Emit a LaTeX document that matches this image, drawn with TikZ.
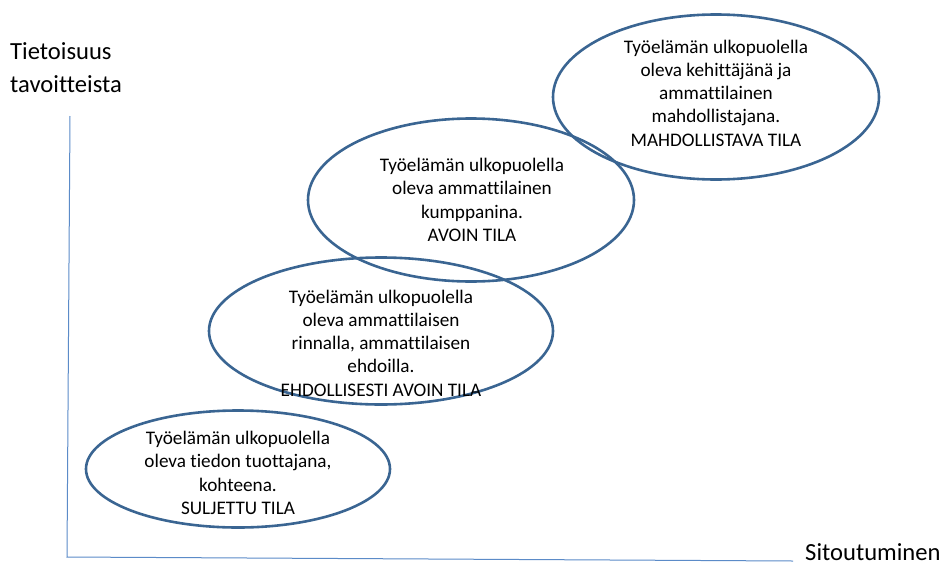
\documentclass[tikz,border=0pt]{standalone}
\usepackage{fontspec}
\setmainfont{Carlito}[Ligatures=NoCommon]
\usetikzlibrary{shapes.geometric}
\definecolor{ellblue}{HTML}{3A6592}
\definecolor{axisblue}{HTML}{5B8BC8}
\begin{document}
\begin{tikzpicture}[x=1pt,y=-1pt,
  ell/.style={draw=ellblue,line width=2.6pt,ellipse,inner sep=0pt},
  etext/.style={align=center,font=\fontsize{19.2}{23.3}\selectfont,inner sep=0pt},
  axlabel/.style={align=left,font=\fontsize{24.6}{33}\selectfont,inner sep=0pt},
  xaxlabel/.style={font=\fontsize{24.6}{28}\selectfont,inner sep=0pt},
  axis/.style={draw=axisblue,line width=1pt}]
\useasboundingbox (0,0) rectangle (947,565);
% axes
\coordinate (ytop) at (70,116);
\coordinate (origin) at (67,557);
\coordinate (xend) at (793,561);
\draw[axis] (ytop) -- (origin) -- (xend);
\node[axlabel,anchor=base west] (ylab) at (10,92) {Tietoisuus\\tavoitteista};
\node[xaxlabel,anchor=base west] (xlab) at (805,560) {Sitoutuminen};
% ellipses
\node[ell,minimum width=304pt,minimum height=117pt] (e1) at (238,469) {};
\node[ell,minimum width=344pt,minimum height=147pt] (e2) at (381,331) {};
\node[ell,minimum width=326pt,minimum height=163pt] (e3) at (471,200) {};
\node[ell,minimum width=326pt,minimum height=165pt] (e4) at (716,97) {};
% texts
\node[etext] (t1) at (238,473) {Työelämän ulkopuolella\\oleva tiedon tuottajana,\\kohteena.\\SULJETTU TILA};
\node[etext] (t2) at (381,343) {Työelämän ulkopuolella\\oleva ammattilaisen\\rinnalla, ammattilaisen\\ehdoilla.\\EHDOLLISESTI AVOIN TILA};
\node[etext] (t3) at (472,200) {Työelämän ulkopuolella\\oleva ammattilainen\\kumppanina.\\AVOIN TILA};
\node[etext] (t4) at (716,93) {Työelämän ulkopuolella\\oleva kehittäjänä ja\\ammattilainen\\mahdollistajana.\\MAHDOLLISTAVA TILA};
\end{tikzpicture}
\end{document}
